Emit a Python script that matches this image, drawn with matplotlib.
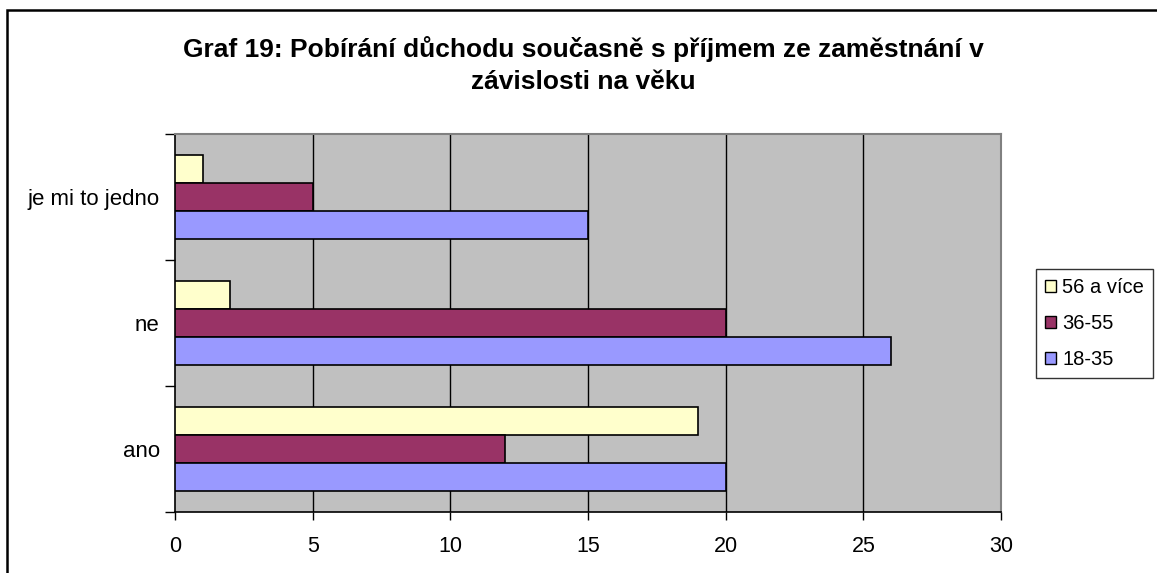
import matplotlib
matplotlib.use("Agg")
import matplotlib.pyplot as plt
from matplotlib.patches import Patch, Rectangle
import numpy as np

plt.rcParams['font.family'] = ['Liberation Sans', 'DejaVu Sans']

categories = ["ano", "ne", "je mi to jedno"]
series_names = ["56 a více", "36-55", "18-35"]
values_56 = [19, 2, 1]
values_36 = [12, 20, 5]
values_18 = [20, 26, 15]
colors = ["#FFFFCC", "#993366", "#9999FF"]
xticks = [0, 5, 10, 15, 20, 25, 30]
title = "Graf 19: Pobírání důchodu současně s příjmem ze zaměstnání v\nzávislosti na věku"

W, H = 1157, 573
fig = plt.figure(figsize=(W / 100, H / 100), dpi=100)
fig.patch.set_facecolor("white")

# outer chart border
fig.add_artist(Rectangle((7 / W, -0.05), 1.2, (H - 10) / H + 0.05, transform=fig.transFigure,
                         fill=False, edgecolor="black", linewidth=1.8))

ax = fig.add_axes([175 / W, (H - 512) / H, (1001 - 175) / W, (512 - 134) / H])
ax.set_facecolor("#C0C0C0")

y = np.arange(len(categories))
bh = 0.222
offsets = [bh, 0, -bh]
handles = []
for vals, off, col, name in zip([values_56, values_36, values_18], offsets, colors, series_names):
    ax.barh(y + off, vals, height=bh, color=col, edgecolor="black", linewidth=1.2, zorder=3)
    handles.append(Patch(facecolor=col, edgecolor="black", linewidth=1.0, label=name))

ax.set_xlim(0, 30)
ax.set_ylim(-0.5, 2.5)
ax.set_xticks(xticks)
ax.set_xticklabels([str(t) for t in xticks], fontsize=15.5)
ax.set_yticks([-0.5, 0.5, 1.5, 2.5])
ax.set_yticklabels([])
ax.set_yticks(y, minor=True)
ax.set_yticklabels(categories, minor=True, fontsize=16)
ax.tick_params(axis="y", which="minor", length=0, pad=11)
ax.tick_params(axis="y", which="major", length=7, width=1, direction="out")
ax.tick_params(axis="x", length=6, width=1, direction="out", pad=11)

for xv in xticks[1:-1]:
    ax.axvline(xv, color="black", linewidth=1.0, zorder=1)

for s in ["top", "right"]:
    ax.spines[s].set_color("#808080")
    ax.spines[s].set_linewidth(1.5)
for s in ["left", "bottom"]:
    ax.spines[s].set_color("black")
    ax.spines[s].set_linewidth(1.2)

fig.text(583 / W, 1 - 65 / H, title, ha="center", va="center", fontsize=19,
         fontweight="bold", linespacing=1.4)

leg = fig.legend(handles=handles, loc="upper left", bbox_to_anchor=(1036 / W, 1 - 269 / H),
                 fontsize=14.5, frameon=True, fancybox=False, shadow=False,
                 handlelength=0.55, handleheight=0.55, handletextpad=0.3,
                 labelspacing=0.85, borderpad=0.45, borderaxespad=0)
leg.get_frame().set_edgecolor("black")
leg.get_frame().set_linewidth(1.0)

fig.savefig("out.png", dpi=100)
